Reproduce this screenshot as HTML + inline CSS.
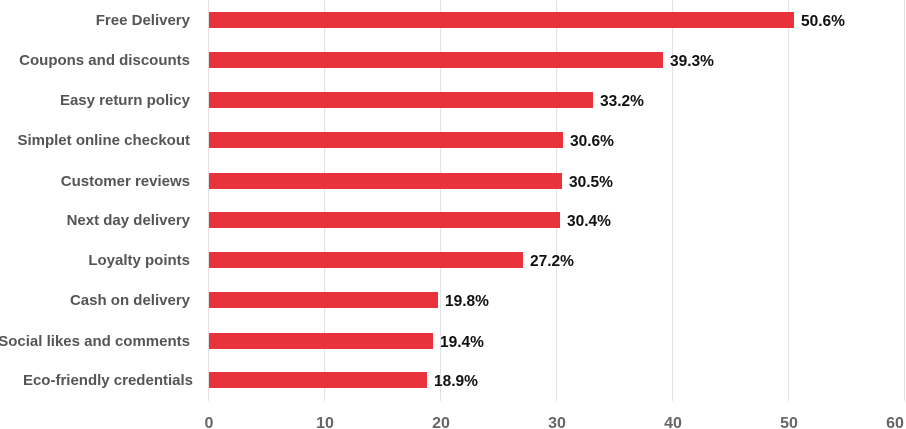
<!DOCTYPE html>
<html><head><meta charset="utf-8"><style>
html,body{margin:0;padding:0;background:#fff;width:906px;height:429px;overflow:hidden}
svg{display:block}
.l{font-family:"Liberation Sans",sans-serif;font-weight:bold;font-size:15px;fill:#555;text-anchor:end}
.v{font-family:"Liberation Sans",sans-serif;font-weight:bold;font-size:15.5px;fill:#111}
.t{font-family:"Liberation Sans",sans-serif;font-weight:bold;font-size:16px;fill:#666;text-anchor:middle}
</style></head><body>
<svg width="906" height="429" xmlns="http://www.w3.org/2000/svg">
<g stroke="#e2e2e6" stroke-width="1">
<line x1="208.5" y1="0" x2="208.5" y2="401"/>
<line x1="324.5" y1="0" x2="324.5" y2="401"/>
<line x1="440.5" y1="0" x2="440.5" y2="401"/>
<line x1="556.5" y1="0" x2="556.5" y2="401"/>
<line x1="672.5" y1="0" x2="672.5" y2="401"/>
<line x1="788.5" y1="0" x2="788.5" y2="401"/>
<line x1="904.5" y1="0" x2="904.5" y2="401"/>
</g>
<g fill="#e8323c">
<rect x="209" y="12" width="585" height="16"/>
<rect x="209" y="52" width="454" height="16"/>
<rect x="209" y="92" width="384" height="16"/>
<rect x="209" y="132" width="354" height="16"/>
<rect x="209" y="173" width="353" height="16"/>
<rect x="209" y="212" width="351" height="16"/>
<rect x="209" y="252" width="314" height="16"/>
<rect x="209" y="292" width="229" height="16"/>
<rect x="209" y="333" width="224" height="16"/>
<rect x="209" y="372" width="218" height="16"/>
</g>
<g class="l">
<text x="190" y="25">Free Delivery</text>
<text x="190" y="65">Coupons and discounts</text>
<text x="190" y="105">Easy return policy</text>
<text x="190" y="145">Simplet online checkout</text>
<text x="190" y="186">Customer reviews</text>
<text x="190" y="225">Next day delivery</text>
<text x="190" y="265">Loyalty points</text>
<text x="190" y="305">Cash on delivery</text>
<text x="190" y="346">Social likes and comments</text>
<text x="193" y="385">Eco-friendly credentials</text>
</g>
<g class="v">
<text x="801" y="26">50.6%</text>
<text x="670" y="66">39.3%</text>
<text x="600" y="106">33.2%</text>
<text x="570" y="146">30.6%</text>
<text x="569" y="187">30.5%</text>
<text x="567" y="226">30.4%</text>
<text x="530" y="266">27.2%</text>
<text x="445" y="306">19.8%</text>
<text x="440" y="347">19.4%</text>
<text x="434" y="386">18.9%</text>
</g>
<g class="t">
<text x="209" y="428">0</text>
<text x="325" y="428">10</text>
<text x="441" y="428">20</text>
<text x="557" y="428">30</text>
<text x="673" y="428">40</text>
<text x="789" y="428">50</text>
<text x="895" y="428">60</text>
</g>
</svg>
</body></html>
